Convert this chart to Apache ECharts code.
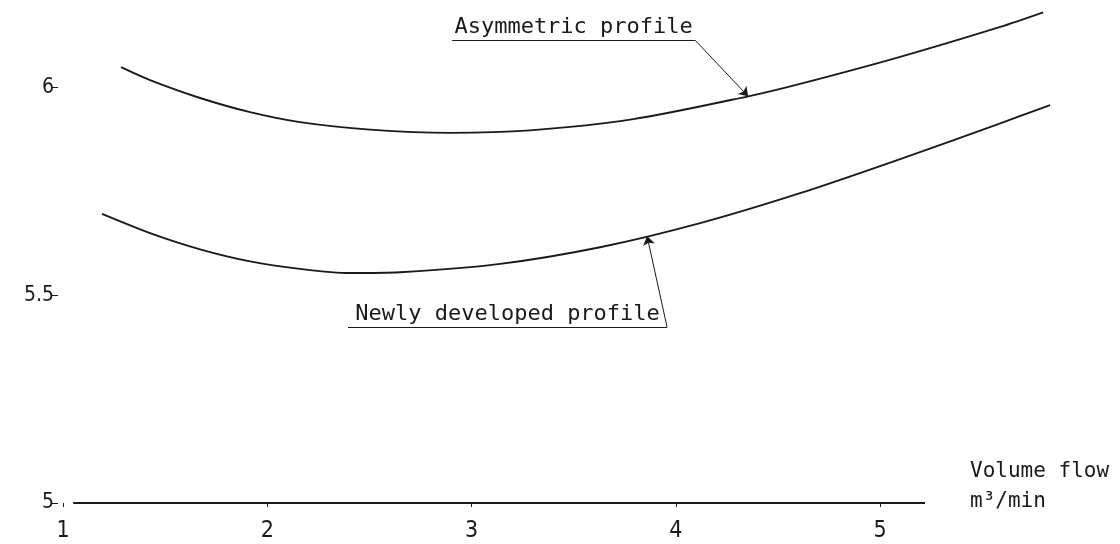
<!DOCTYPE html>
<html>
<head>
<meta charset="utf-8">
<script src="https://cdn.jsdelivr.net/npm/echarts@6/dist/echarts.min.js"></script>
<style>html,body{margin:0;padding:0;background:#fff;}#c{width:1120px;height:544px;}</style>
</head>
<body>
<div id="c"></div>
<script>
// x: volume flow (m^3/min)
const asymX = [1.284,1.426,1.671,1.916,2.160,2.503,2.895,3.286,3.791,4.354,4.608,5.098,5.588,5.798];
const asymY = [6.048,6.017,5.974,5.940,5.916,5.898,5.890,5.896,5.923,5.978,6.008,6.073,6.145,6.180];
const newX  = [1.191,1.426,1.671,1.916,2.160,2.405,2.650,3.140,3.629,4.119,4.608,5.098,5.588,5.832];
const newY  = [5.695,5.649,5.610,5.581,5.563,5.553,5.555,5.575,5.615,5.673,5.745,5.827,5.913,5.957];
const baseX = [1.05, 5.22];
const baseY = [5, 5];
const xTicks = [1,2,3,4,5];
const yTicks = [5,5.5,6];
const asymLabel = 'Asymmetric profile';
const newLabel = 'Newly developed profile';
const axisName1 = 'Volume flow';
const axisName2 = 'm³/min';
// annotation anchor points [x, y]
const asymNote = [[2.905,6.113],[4.094,6.113],[4.354,5.978]];
const newNote  = [[2.395,5.423],[3.957,5.423],[3.859,5.642]];

const pairs = (xs, ys) => xs.map((x, i) => [x, ys[i]]);
const ink = '#1a1a1a';
const mono = '"DejaVu Sans Mono", monospace';
const narrow = '"Liberation Sans Narrow", "DejaVu Sans Condensed", "Liberation Sans", sans-serif';

function note(pts, text, fs) {
  return {
    silent: true,
    animation: false,
    symbol: 'none',
    lineStyle: {color: ink, width: 1, type: 'solid'},
    data: [
      [{coord: pts[0], symbol: 'none',
        label: {show: true, formatter: text, position: 'insideMiddleTop', distance: 2,
                color: ink, fontFamily: mono, fontSize: fs}},
       {coord: pts[1], symbol: 'none'}],
      [{coord: pts[1], symbol: 'none', label: {show: false}},
       {coord: pts[2], symbol: 'arrow', symbolSize: 9}]
    ]
  };
}

const chart = echarts.init(document.getElementById('c'));
chart.setOption({
  backgroundColor: '#fff',
  animation: false,
  grid: {left: 63, right: 56, top: 4, bottom: 41},
  graphic: [
    {type: 'text', left: 970, top: 461, style: {text: axisName1, fill: ink, font: '21px ' + mono}},
    {type: 'text', left: 970, top: 491, style: {text: axisName2, fill: ink, font: '21px ' + mono}}
  ],
  xAxis: {
    type: 'value', min: 1, max: 5.9,
    axisLine: {show: false},
    axisTick: {show: true, length: 4, customValues: xTicks, lineStyle: {color: ink}},
    axisLabel: {customValues: xTicks, margin: 17, color: ink, fontFamily: narrow, fontSize: 23},
    splitLine: {show: false}
  },
  yAxis: {
    type: 'value', min: 5, max: 6.2,
    offset: 5,
    axisLine: {show: false},
    axisTick: {show: true, length: 7, customValues: yTicks, lineStyle: {color: ink}},
    axisLabel: {customValues: yTicks, margin: 4, color: ink, fontFamily: narrow, fontSize: 21},
    splitLine: {show: false}
  },
  series: [
    {
      name: 'baseline', type: 'line', showSymbol: false, silent: true,
      lineStyle: {color: ink, width: 1.8},
      data: pairs(baseX, baseY)
    },
    {
      name: asymLabel, type: 'line', smooth: 0.3, showSymbol: false,
      lineStyle: {color: ink, width: 1.9},
      data: pairs(asymX, asymY),
      markLine: note(asymNote, asymLabel, 22)
    },
    {
      name: newLabel, type: 'line', smooth: 0.3, showSymbol: false,
      lineStyle: {color: ink, width: 1.9},
      data: pairs(newX, newY),
      markLine: note(newNote, newLabel, 22)
    }
  ]
});
</script>
</body>
</html>
